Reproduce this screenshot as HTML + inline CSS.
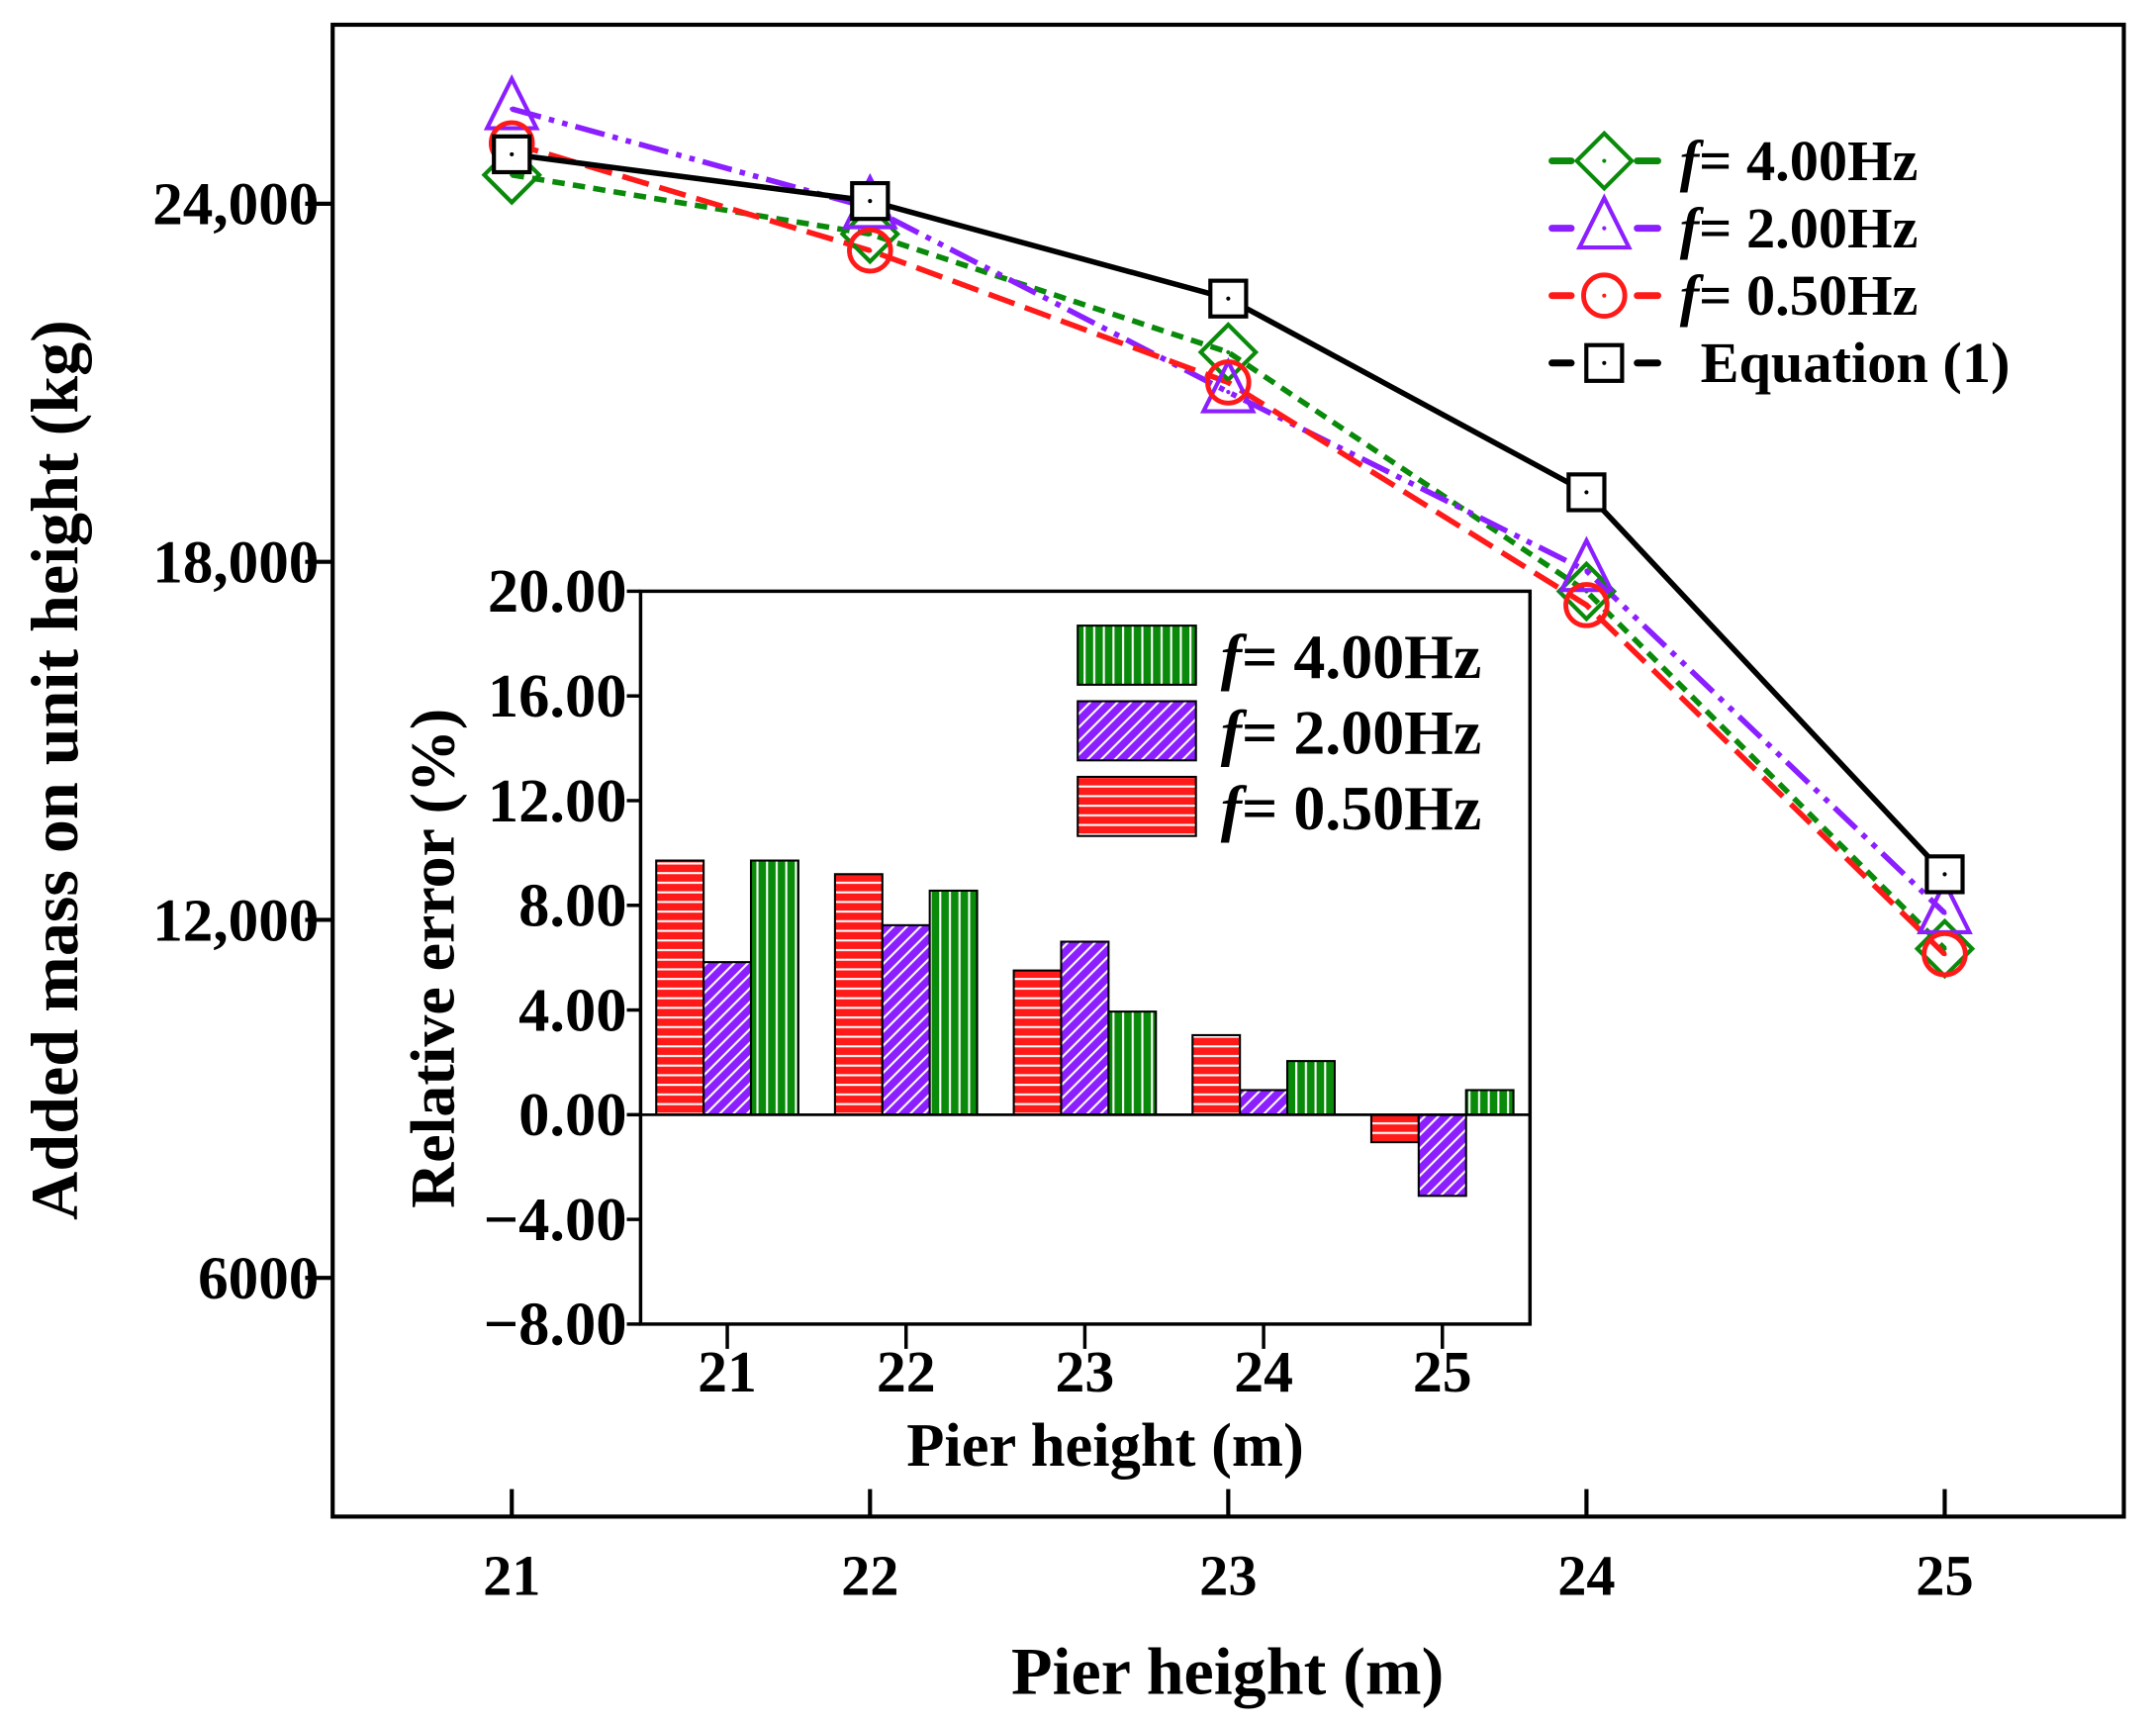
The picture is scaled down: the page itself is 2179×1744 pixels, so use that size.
<!DOCTYPE html>
<html><head><meta charset="utf-8"><style>
html,body{margin:0;padding:0;background:#fff;}
svg{display:block;}
text{font-family:"Liberation Serif",serif;font-weight:bold;fill:#000;}
</style></head><body>
<svg id="chart" width="2179" height="1744" viewBox="0 0 1568.4 1255.3" xmlns="http://www.w3.org/2000/svg">
<defs>
<pattern id="pv" width="7" height="7" patternUnits="userSpaceOnUse"><rect width="7" height="7" fill="#0a8a0a"/><line x1="5" y1="0" x2="5" y2="7" stroke="#fff" stroke-width="1.5"/></pattern>
<pattern id="pd" width="7" height="7" patternUnits="userSpaceOnUse" patternTransform="rotate(45)"><rect width="7" height="7" fill="#8b1fff"/><line x1="5" y1="0" x2="5" y2="7" stroke="#fff" stroke-width="1.5"/></pattern>
<pattern id="ph" width="7" height="7" patternUnits="userSpaceOnUse"><rect width="7" height="7" fill="#ff1a1a"/><line x1="0" y1="5" x2="7" y2="5" stroke="#fff" stroke-width="1.5"/></pattern>
</defs>
<g id="main"></g>
<g id="inset"></g>
</svg>
<script>
const heights = [21, 22, 23, 24, 25];
const mainYTicks = [6000, 12000, 18000, 24000];
const mainYTickLabels = ["6000", "12,000", "18,000", "24,000"];
const eqValues = [24829, 24046, 22411, 19165, 12764];
const f4Values = [24484, 23493, 21512, 17505, 11517];
const f2Values = [25589, 23931, 20845, 17850, 12115];
const f05Values = [25014, 23217, 21006, 17275, 11425];
const insetYTicks = [-8, -4, 0, 4, 8, 12, 16, 20];
const insetYTickLabels = ["\u22128.00", "\u22124.00", "0.00", "4.00", "8.00", "12.00", "16.00", "20.00"];
const errF05 = [9.71, 9.19, 5.51, 3.04, -1.05];
const errF2 = [5.83, 7.24, 6.61, 0.94, -3.10];
const errF4 = [9.71, 8.56, 3.94, 2.05, 0.94];

const NS = "http://www.w3.org/2000/svg";
function mk(parent, tag, attrs, txt) {
  const e = document.createElementNS(NS, tag);
  for (const k in attrs) e.setAttribute(k, attrs[k]);
  if (txt !== undefined) e.textContent = txt;
  parent.appendChild(e);
  return e;
}
const main = document.getElementById('main');
const inset = document.getElementById('inset');

const mL = 242, mR = 1545, mT = 18, mB = 1103;
const mx = v => mL + (v - 20.5) / 5 * (mR - mL);
const my = v => mB - (v - 2000) / 25000 * (mB - mT);

let e;
e = mk(main, 'rect', {x: mL, y: mT, width: mR - mL, height: mB - mT, fill: 'none', stroke: '#000', 'stroke-width': 3});


mainYTicks.forEach((t, i) => {
  const y = my(t);
  let l = mk(main, 'line', {x1: mL - 20, x2: mL, y1: y, y2: y, stroke: '#000', 'stroke-width': 3});
  
  
  let tx = mk(main, 'text', {x: mL - 10, y: y + 15, 'text-anchor': 'end', 'font-size': 44}, mainYTickLabels[i]);
  
  
});
heights.forEach(h => {
  const x = mx(h);
  let l = mk(main, 'line', {x1: x, x2: x, y1: mB - 20, y2: mB, stroke: '#000', 'stroke-width': 3});
  
  
  let tx = mk(main, 'text', {x: x, y: mB + 57, 'text-anchor': 'middle', 'font-size': 42}, String(h));
  
  
});
e = mk(main, 'text', {x: 893, y: 1232, 'text-anchor': 'middle', 'font-size': 49}, 'Pier height (m)');


e = mk(main, 'text', {x: 56, y: 560, 'text-anchor': 'middle', 'font-size': 49, transform: 'rotate(-90 56 560)'}, 'Added mass on unit height (kg)');



function marker(g, type, x, y, color) {
  let m;
  if (type === 'diamond') m = mk(g, 'polygon', {points: `${x},${y-20} ${x+20},${y} ${x},${y+20} ${x-20},${y}`, fill: 'none', stroke: color, 'stroke-width': 3});
  else if (type === 'tri') m = mk(g, 'polygon', {points: `${x},${y-22} ${x+18},${y+14} ${x-18},${y+14}`, fill: 'none', stroke: color, 'stroke-width': 3});
  else if (type === 'circle') m = mk(g, 'circle', {cx: x, cy: y, r: 15, fill: 'none', stroke: color, 'stroke-width': 3.5});
  else m = mk(g, 'rect', {x: x - 13, y: y - 13, width: 26, height: 26, fill: '#fff', stroke: color, 'stroke-width': 3});
  
  
  let d = mk(g, 'circle', {cx: x, cy: y, r: 1.5, fill: color});
  
  
}
const series = [
  {name: 'series-f4', vals: f4Values, color: '#0a8a0a', dash: '9 6', type: 'diamond', label: '4.00Hz'},
  {name: 'series-f2', vals: f2Values, color: '#8b1fff', dash: '22 6 4 6 4 6', type: 'tri', label: '2.00Hz'},
  {name: 'series-f05', vals: f05Values, color: '#ff1a1a', dash: '20 8', type: 'circle', label: '0.50Hz'},
  {name: 'series-equation', vals: eqValues, color: '#000', dash: 'none', type: 'square', label: 'Equation (1)'}
];
series.forEach(s => {
  const g = mk(main, 'g', {});
  
  
  const pts = s.vals.map((v, i) => mx(heights[i]) + ',' + my(v)).join(' ');
  let pl = mk(g, 'polyline', {points: pts, fill: 'none', stroke: s.color, 'stroke-width': 4, 'stroke-dasharray': s.dash});
  
  
});
series.forEach(s => {
  const g = mk(main, 'g', {});
  
  
  s.vals.forEach((v, i) => marker(g, s.type, mx(heights[i]), my(v), s.color));
});
series.forEach((s, i) => {
  const y = 117 + i * 49;
  const g = mk(main, 'g', {});
  
  
  mk(g, 'line', {x1: 1129, x2: 1143, y1: y, y2: y, stroke: s.color, 'stroke-width': 5, 'stroke-linecap': 'round'});
  mk(g, 'line', {x1: 1191, x2: 1206, y1: y, y2: y, stroke: s.color, 'stroke-width': 5, 'stroke-linecap': 'round'});
  marker(g, s.type, 1167, y, s.color);
  if (s.type === 'square') {
    mk(g, 'text', {x: 1237, y: y + 14, 'font-size': 42}, s.label);
  } else {
    const t = mk(g, 'text', {x: 1222, y: y + 14, 'font-size': 42});
    mk(t, 'tspan', {'font-style': 'italic'}, 'f');
    mk(t, 'tspan', {}, '= ' + s.label);
  }
});

const iL = 466, iR = 1113, iT = 430, iB = 963;
const ix = v => iL + (v - 20.515) / (25.49 - 20.515) * (iR - iL);
const iy = v => iB - (v + 8) / 28 * (iB - iT);
e = mk(inset, 'rect', {x: iL, y: iT, width: iR - iL, height: iB - iT, fill: '#fff', stroke: '#000', 'stroke-width': 2.5});


const bw = 0.265;
const bars = [
  {vals: errF05, fill: 'url(#ph)', off: -1, name: 'bar-f05'},
  {vals: errF2, fill: 'url(#pd)', off: 0, name: 'bar-f2'},
  {vals: errF4, fill: 'url(#pv)', off: 1, name: 'bar-f4'}
];
bars.forEach(b => {
  b.vals.forEach((v, i) => {
    const c = heights[i] + b.off * bw;
    const x0 = ix(c - bw / 2), x1 = ix(c + bw / 2);
    const y0 = iy(Math.max(v, 0)), y1 = iy(Math.min(v, 0));
    let r = mk(inset, 'rect', {x: x0, y: y0, width: x1 - x0, height: y1 - y0, fill: b.fill, stroke: '#000', 'stroke-width': 1.5});
    
    
  });
});
e = mk(inset, 'line', {x1: iL, x2: iR, y1: iy(0), y2: iy(0), stroke: '#000', 'stroke-width': 2});


insetYTicks.forEach((t, i) => {
  const y = iy(t);
  let l = mk(inset, 'line', {x1: iL - 10, x2: iL, y1: y, y2: y, stroke: '#000', 'stroke-width': 2.5});
  
  
  let tx = mk(inset, 'text', {x: iL - 10, y: y + 15, 'text-anchor': 'end', 'font-size': 45}, insetYTickLabels[i]);
  
  
});
heights.forEach(h => {
  const x = ix(h);
  let l = mk(inset, 'line', {x1: x, x2: x, y1: iB, y2: iB + 18, stroke: '#000', 'stroke-width': 2.5});
  
  
  let tx = mk(inset, 'text', {x: x, y: iB + 49, 'text-anchor': 'middle', 'font-size': 43}, String(h));
  
  
});
e = mk(inset, 'text', {x: 804, y: 1066, 'text-anchor': 'middle', 'font-size': 45}, 'Pier height (m)');


e = mk(inset, 'text', {x: 330, y: 697, 'text-anchor': 'middle', 'font-size': 46, transform: 'rotate(-90 330 697)'}, 'Relative error (%)');


const ileg = [{fill: 'url(#pv)', label: '4.00Hz'}, {fill: 'url(#pd)', label: '2.00Hz'}, {fill: 'url(#ph)', label: '0.50Hz'}];
ileg.forEach((l, i) => {
  const y = 455 + i * 55;
  const g = mk(inset, 'g', {});
  
  
  mk(g, 'rect', {x: 784, y: y, width: 86, height: 43, fill: l.fill, stroke: '#000', 'stroke-width': 1.5});
  const t = mk(g, 'text', {x: 888, y: y + 38, 'font-size': 46});
  mk(t, 'tspan', {'font-style': 'italic'}, 'f');
  mk(t, 'tspan', {}, '= ' + l.label);
});
</script>
</body></html>
